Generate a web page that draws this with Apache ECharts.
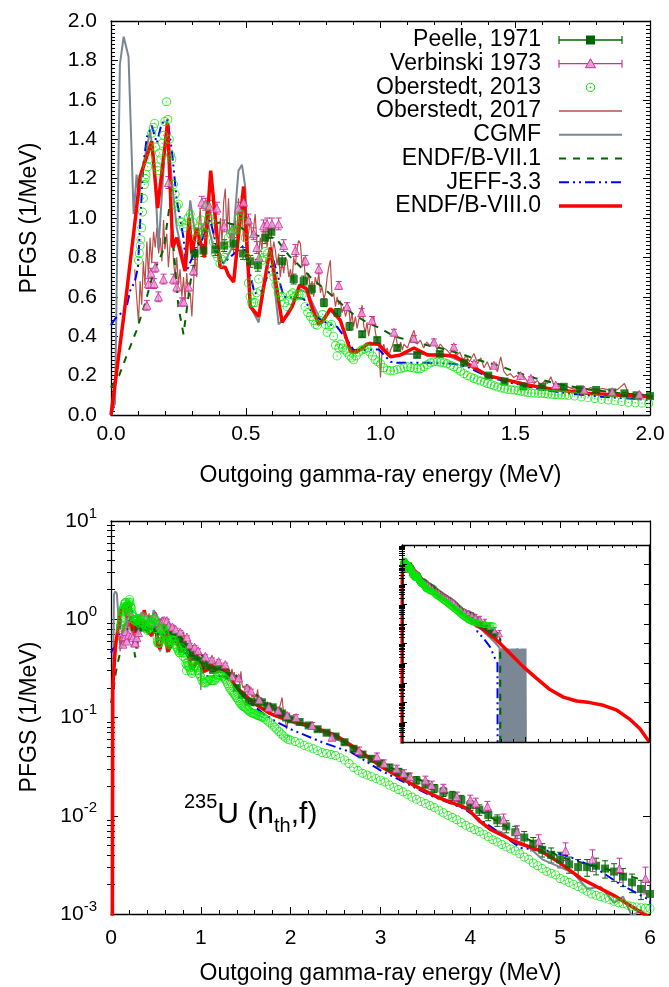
<!DOCTYPE html>
<html>
<head>
<meta charset="utf-8">
<script src="https://cdn.jsdelivr.net/npm/echarts@6/dist/echarts.min.js"></script>
<style>
html,body{margin:0;padding:0;background:#fff}
#main{width:669px;height:987px}
</style>
</head>
<body>
<div id="main"></div>
<script>
// Prompt fission gamma spectrum (PFGS) of 235U(n_th,f): energies in MeV, values in 1/MeV

// Peelle 1971: [E, PFGS, uncertainty]
const peelle = [
[0.31,0.82,0.03],[0.343,0.835,0.03],[0.387,0.84,0.03],[0.42,0.86,0.03],[0.455,0.87,0.03],[0.49,0.82,0.03],[0.517,0.78,0.03],[0.545,0.76,0.03],[0.572,0.9,0.03],[0.595,0.93,0.03],[0.635,0.78,0.03],[0.678,0.69,0.025],[0.715,0.68,0.025],[0.745,0.64,0.025],[0.79,0.57,0.02],[0.84,0.52,0.02],[0.885,0.45,0.02],[0.932,0.41,0.015],[0.988,0.38,0.015],[1.062,0.34,0.012],[1.136,0.305,0.012],[1.22,0.31,0.012],[1.31,0.265,0.01],[1.4,0.2,0.008],[1.46,0.17,0.007],[1.53,0.145,0.006],[1.6,0.143,0.006],[1.68,0.143,0.006],[1.74,0.13,0.005],[1.8,0.127,0.005],[1.86,0.115,0.005],[1.905,0.11,0.005],[1.95,0.1,0.004],[2.0,0.096,0.004],
[2.1,0.09,0.004],[2.2,0.083,0.004],[2.3,0.076,0.004],[2.4,0.07,0.0035],[2.5,0.064,0.0035],[2.6,0.056,0.003],[2.7,0.048,0.003],[2.8,0.042,0.0027],[2.9,0.038,0.0025],[3.0,0.034,0.0024],[3.1,0.031,0.0023],[3.2,0.028,0.0022],[3.3,0.025,0.002],[3.4,0.023,0.002],[3.5,0.021,0.0019],[3.6,0.019,0.0018],[3.7,0.0175,0.0018],[3.8,0.016,0.0017],[3.9,0.0145,0.0016],[4.0,0.0128,0.0015],[4.1,0.0115,0.0014],[4.2,0.0102,0.0013],[4.3,0.009,0.0012],[4.4,0.0078,0.0011],[4.5,0.0068,0.001],[4.6,0.006,0.0009],[4.7,0.0052,0.0008],[4.8,0.0045,0.0007],[4.9,0.004,0.0007],[5.0,0.0036,0.00065],[5.1,0.0032,0.0006],[5.2,0.003,0.00058],[5.3,0.003,0.00058],[5.4,0.0031,0.0006],[5.5,0.0029,0.00058],[5.6,0.0027,0.00055],[5.7,0.0024,0.0005],[5.8,0.0021,0.00045],[5.9,0.0018,0.0004],[6.0,0.0016,0.00035],[6.2,0.0013,0.0003],[6.4,0.001,0.00025],[6.6,0.0008,0.0002],[6.8,0.00065,0.00017],[7.0,0.00052,0.00014],[7.2,0.00042,0.00012],[7.4,0.00034,0.0001],[7.6,0.00028,0.00009]
];

// Verbinski 1973: [E, PFGS, uncertainty]
const verbinski = [
[0.133,0.557,0.025],[0.139,0.667,0.025],[0.148,0.72,0.025],[0.16,0.667,0.025],[0.164,0.75,0.025],[0.176,0.6,0.025],[0.195,0.69,0.025],[0.213,1.18,0.03],[0.232,0.69,0.025],[0.244,0.65,0.025],[0.263,0.574,0.02],[0.27,0.574,0.02],[0.288,0.65,0.02],[0.306,0.734,0.025],[0.337,1.08,0.03],[0.35,1.07,0.03],[0.365,1.06,0.03],[0.393,1.05,0.03],[0.42,0.96,0.03],[0.449,0.94,0.03],[0.473,1.05,0.03],[0.492,1.08,0.03],[0.51,0.99,0.03],[0.529,0.92,0.03],[0.541,0.85,0.03],[0.55,0.8,0.03],[0.566,0.96,0.03],[0.579,0.97,0.03],[0.597,0.97,0.03],[0.622,0.97,0.03],[0.641,0.86,0.03],[0.684,0.835,0.03],[0.721,0.785,0.025],[0.771,0.742,0.025],[0.845,0.658,0.02],[0.876,0.55,0.02],[0.93,0.52,0.02],[0.969,0.48,0.02],[1.05,0.42,0.015],[1.124,0.388,0.015],[1.198,0.371,0.015],[1.272,0.346,0.012],[1.347,0.262,0.01],[1.421,0.253,0.01],[1.52,0.2,0.008],[1.558,0.186,0.008],[1.65,0.152,0.007],[1.756,0.127,0.006],[1.86,0.118,0.006],[1.96,0.105,0.006],
[2.06,0.1,0.007],[2.24,0.083,0.006],[2.46,0.063,0.005],[2.76,0.046,0.004],[2.96,0.04,0.0035],[3.04,0.034,0.003],[3.18,0.03,0.0027],[3.26,0.027,0.0024],[3.33,0.025,0.0022],[3.5,0.023,0.0023],[3.57,0.0205,0.002],[3.7,0.019,0.0019],[3.85,0.0157,0.0017],[4.0,0.0145,0.0017],[4.06,0.0135,0.0016],[4.19,0.0124,0.0016],[4.37,0.0091,0.0013],[4.52,0.0069,0.001],[4.76,0.0055,0.0009],[5.06,0.0044,0.0009],[5.36,0.0036,0.0009],[5.66,0.0029,0.0008],[5.95,0.0023,0.0007],[6.3,0.0018,0.0006],[6.7,0.0012,0.0005],[7.1,0.0007,0.0003],[7.5,0.00045,0.0002],[7.9,0.0003,0.00015]
];

// Oberstedt 2013: [E, PFGS]
const oberstedt2013 = [
[0.102,0.785],[0.105,0.82],[0.108,0.86],[0.111,0.89],[0.114,0.95],[0.117,1.03],[0.12,1.1],[0.124,1.17],[0.127,1.2],[0.13,1.22],[0.136,1.26],[0.14,1.3],[0.145,1.36],[0.151,1.43],[0.157,1.46],[0.162,1.48],[0.166,1.36],[0.17,1.26],[0.175,1.24],[0.18,1.33],[0.185,1.3],[0.19,1.38],[0.195,1.42],[0.2,1.49],[0.206,1.59],[0.211,1.5],[0.216,1.4],[0.221,1.32],[0.226,1.3],[0.232,1.17],[0.238,1.12],[0.244,1.06],[0.25,1.07],[0.256,0.98],[0.263,0.98],[0.27,0.95],[0.278,0.97],[0.286,1.0],[0.294,1.02],[0.302,0.98],[0.31,0.93],[0.318,0.9],[0.326,0.95],[0.334,0.99],[0.342,0.93],[0.35,0.92],[0.356,1.06],[0.364,1.0],[0.372,0.98],[0.38,0.88],[0.388,0.82],[0.396,0.8],[0.404,0.77],[0.412,0.79],[0.42,0.8],[0.428,0.84],[0.436,0.9],[0.444,0.92],[0.452,0.93],[0.46,0.94],[0.467,0.94],[0.475,1.0],[0.482,1.02],[0.49,0.98],[0.498,0.9],[0.504,0.8],[0.51,0.67],[0.516,0.6],[0.522,0.57],[0.529,0.57],[0.535,0.57],[0.541,0.62],[0.548,0.69],[0.554,0.63],[0.56,0.785],[0.566,0.8],[0.572,0.83],[0.58,0.82],[0.588,0.78],[0.596,0.73],[0.604,0.7],[0.612,0.66],[0.62,0.62],[0.628,0.6],[0.636,0.6],[0.644,0.57],[0.653,0.55],[0.66,0.58],[0.666,0.61],[0.674,0.62],[0.682,0.6],[0.69,0.61],[0.698,0.61],[0.709,0.61],[0.72,0.55],[0.73,0.52],[0.74,0.5],[0.75,0.48],[0.758,0.46],[0.765,0.456],[0.775,0.48],[0.785,0.51],[0.795,0.46],[0.802,0.42],[0.81,0.45],[0.818,0.46],[0.826,0.4],[0.833,0.354],[0.839,0.3],[0.846,0.34],[0.853,0.36],[0.86,0.34],[0.868,0.33],[0.876,0.32],[0.885,0.3],[0.893,0.29],[0.9,0.28],[0.91,0.3],[0.92,0.32],[0.93,0.33],[0.94,0.335],[0.95,0.34],[0.96,0.32],[0.97,0.3],[0.98,0.28],[0.99,0.27],[1.0,0.26],[1.012,0.24],[1.025,0.228],[1.037,0.225],[1.05,0.225],[1.062,0.23],[1.075,0.235],[1.087,0.24],[1.1,0.245],[1.112,0.24],[1.124,0.238],[1.136,0.236],[1.149,0.236],[1.161,0.245],[1.173,0.255],[1.186,0.265],[1.198,0.27],[1.21,0.27],[1.222,0.268],[1.235,0.265],[1.247,0.26],[1.26,0.252],[1.272,0.245],[1.285,0.235],[1.297,0.222],[1.31,0.21],[1.322,0.2],[1.335,0.192],[1.347,0.185],[1.36,0.178],[1.372,0.172],[1.385,0.166],[1.397,0.16],[1.41,0.155],[1.422,0.148],[1.435,0.142],[1.447,0.137],[1.46,0.133],[1.472,0.13],[1.485,0.128],[1.497,0.127],[1.51,0.123],[1.522,0.12],[1.535,0.117],[1.547,0.114],[1.56,0.112],[1.572,0.111],[1.585,0.11],[1.597,0.11],[1.61,0.108],[1.622,0.106],[1.635,0.105],[1.647,0.104],[1.66,0.103],[1.672,0.102],[1.685,0.101],[1.697,0.1],[1.72,0.096],[1.745,0.092],[1.77,0.088],[1.795,0.084],[1.82,0.08],[1.845,0.076],[1.87,0.072],[1.895,0.068],[1.92,0.065],[1.945,0.062],[1.97,0.06],[1.995,0.059],
[2.05,0.057],[2.1,0.055],[2.15,0.052],[2.2,0.05],[2.25,0.048],[2.3,0.046],[2.35,0.044],[2.4,0.043],[2.45,0.042],[2.5,0.041],[2.55,0.039],[2.6,0.037],[2.65,0.034],[2.7,0.031],[2.75,0.029],[2.8,0.027],[2.85,0.026],[2.9,0.025],[2.95,0.024],[3.0,0.023],[3.05,0.022],[3.1,0.0205],[3.15,0.0195],[3.2,0.0185],[3.25,0.0175],[3.3,0.0165],[3.35,0.0155],[3.4,0.0147],[3.45,0.014],[3.5,0.0133],[3.55,0.0127],[3.6,0.0121],[3.65,0.0114],[3.7,0.0107],[3.75,0.0101],[3.8,0.0096],[3.85,0.0091],[3.9,0.0085],[3.95,0.008],[4.0,0.0076],[4.05,0.0072],[4.1,0.0069],[4.15,0.0065],[4.2,0.0061],[4.25,0.0057],[4.3,0.0054],[4.35,0.0051],[4.4,0.0048],[4.45,0.0046],[4.5,0.0044],[4.55,0.0041],[4.6,0.0038],[4.65,0.0036],[4.7,0.0033],[4.75,0.0031],[4.8,0.0029],[4.85,0.0027],[4.9,0.0026],[4.95,0.0025],[5.0,0.0023],[5.05,0.0022],[5.1,0.0021],[5.15,0.002],[5.2,0.0019],[5.25,0.0018],[5.3,0.0017],[5.35,0.0016],[5.4,0.00155],[5.45,0.0015],[5.5,0.00145],[5.55,0.0014],[5.6,0.00135],[5.65,0.0013],[5.7,0.00127],[5.75,0.00123],[5.8,0.0012],[5.85,0.00118],[5.9,0.00116],[5.95,0.00115],[6.0,0.00114],[6.1,0.0011],[6.2,0.00105],[6.3,0.001],[6.4,0.00098],[6.5,0.00095],[6.6,0.00092],[6.7,0.0009],[6.8,0.00088],[6.9,0.00087],[7.0,0.00086],[7.1,0.00085],[7.2,0.00084],[7.3,0.00082],[7.4,0.0008]
];

// Oberstedt 2017: [E, PFGS]
const oberstedt2017 = [
[0.088,0.74],[0.095,0.6],[0.102,0.47],[0.108,0.68],[0.114,0.56],[0.12,0.78],[0.126,0.66],[0.133,0.88],[0.139,0.7],[0.145,0.9],[0.151,0.77],[0.158,0.93],[0.164,0.85],[0.17,0.95],[0.177,0.82],[0.183,0.9],[0.189,0.78],[0.195,0.99],[0.2,0.84],[0.207,0.92],[0.213,0.75],[0.219,0.86],[0.226,0.95],[0.232,0.78],[0.238,0.7],[0.244,0.8],[0.25,0.66],[0.256,0.74],[0.263,0.6],[0.269,0.7],[0.275,0.58],[0.281,0.72],[0.288,0.6],[0.294,0.62],[0.3,0.5],[0.306,0.51],[0.312,0.82],[0.318,0.7],[0.325,0.95],[0.331,1.05],[0.337,0.9],[0.344,0.95],[0.35,1.0],[0.356,1.09],[0.362,0.95],[0.368,1.05],[0.374,1.05],[0.381,0.9],[0.387,1.0],[0.393,0.99],[0.4,0.85],[0.406,1.0],[0.412,0.88],[0.418,1.08],[0.424,1.15],[0.43,0.92],[0.436,1.1],[0.443,0.86],[0.449,0.95],[0.455,0.82],[0.461,1.0],[0.467,0.9],[0.473,1.1],[0.48,0.95],[0.486,1.05],[0.492,0.88],[0.498,0.98],[0.505,0.85],[0.511,0.93],[0.517,1.0],[0.523,0.9],[0.529,0.95],[0.535,1.02],[0.541,0.88],[0.548,0.82],[0.554,0.9],[0.56,0.84],[0.566,0.95],[0.572,0.98],[0.579,0.85],[0.585,0.95],[0.591,0.9],[0.597,0.8],[0.604,0.88],[0.61,0.835],[0.616,0.76],[0.622,0.82],[0.628,0.7],[0.635,0.78],[0.641,0.72],[0.647,0.8],[0.653,0.785],[0.66,0.7],[0.666,0.74],[0.672,0.68],[0.678,0.8],[0.684,0.76],[0.69,0.84],[0.696,0.886],[0.703,0.87],[0.709,0.75],[0.715,0.8],[0.721,0.7],[0.727,0.667],[0.733,0.72],[0.74,0.63],[0.746,0.68],[0.752,0.6],[0.758,0.7],[0.765,0.66],[0.771,0.72],[0.777,0.62],[0.783,0.65],[0.79,0.59],[0.796,0.62],[0.802,0.7],[0.808,0.75],[0.814,0.785],[0.82,0.6],[0.826,0.62],[0.833,0.55],[0.839,0.6],[0.845,0.56],[0.851,0.58],[0.857,0.52],[0.864,0.55],[0.87,0.5],[0.876,0.53],[0.882,0.55],[0.888,0.46],[0.894,0.52],[0.9,0.45],[0.907,0.5],[0.913,0.44],[0.919,0.48],[0.925,0.52],[0.932,0.557],[0.938,0.45],[0.944,0.42],[0.95,0.47],[0.956,0.4],[0.962,0.45],[0.969,0.48],[0.975,0.5],[0.981,0.42],[0.987,0.38],[0.994,0.35],[1.0,0.19],[1.006,0.33],[1.012,0.36],[1.019,0.32],[1.025,0.34],[1.031,0.3],[1.037,0.33],[1.043,0.346],[1.05,0.38],[1.056,0.41],[1.062,0.36],[1.068,0.34],[1.075,0.37],[1.081,0.33],[1.087,0.36],[1.1,0.34],[1.112,0.39],[1.124,0.43],[1.136,0.36],[1.148,0.38],[1.16,0.34],[1.172,0.37],[1.184,0.35],[1.198,0.38],[1.21,0.33],[1.222,0.36],[1.234,0.34],[1.246,0.33],[1.258,0.31],[1.27,0.34],[1.282,0.3],[1.294,0.32],[1.306,0.28],[1.318,0.3],[1.33,0.27],[1.347,0.312],[1.36,0.26],[1.372,0.29],[1.384,0.24],[1.396,0.27],[1.408,0.23],[1.42,0.25],[1.434,0.22],[1.446,0.295],[1.458,0.22],[1.47,0.2],[1.482,0.21],[1.494,0.19],[1.506,0.2],[1.518,0.18],[1.53,0.2],[1.545,0.17],[1.558,0.18],[1.57,0.16],[1.582,0.175],[1.594,0.15],[1.606,0.17],[1.62,0.16],[1.632,0.194],[1.644,0.15],[1.656,0.16],[1.668,0.14],[1.68,0.155],[1.7,0.14],[1.72,0.13],[1.74,0.145],[1.76,0.125],[1.78,0.14],[1.8,0.12],[1.82,0.135],[1.84,0.13],[1.86,0.12],[1.88,0.13],[1.905,0.16],[1.92,0.11],[1.94,0.095],[1.954,0.076],[1.97,0.09],[1.99,0.1],[2.01,0.095],[2.03,0.09],[2.05,0.085]
];

// CGMF calculation: [E, PFGS]; zero bins above 8 MeV come from limited statistics
const cgmf = [
[0,0],[0.015,0.06],[0.033,1.78],[0.047,1.92],[0.065,1.82],[0.084,1.02],[0.095,1.22],[0.103,1.1],[0.117,1.25],[0.145,1.44],[0.16,1.3],[0.176,0.845],[0.207,1.5],[0.225,1.2],[0.244,0.95],[0.275,0.76],[0.294,1.09],[0.312,0.92],[0.335,0.95],[0.356,0.99],[0.38,0.85],[0.418,0.77],[0.45,0.85],[0.473,1.24],[0.486,1.27],[0.498,1.16],[0.517,0.55],[0.548,0.47],[0.591,0.85],[0.622,0.46],[0.659,0.51],[0.696,0.64],[0.73,0.62],[0.783,0.465],[0.814,0.53],[0.851,0.48],[0.89,0.33],[0.93,0.33],[0.96,0.37],[1.0,0.35],[1.04,0.3],[1.1,0.31],[1.17,0.31],[1.25,0.3],[1.32,0.26],[1.4,0.2],[1.5,0.17],[1.6,0.14],[1.7,0.12],[1.8,0.105],[1.9,0.097],[2.0,0.09],[2.3,0.075],[2.6,0.055],[3.0,0.032],[3.3,0.022],[3.6,0.0165],[4.0,0.011],[4.2,0.0075],[4.35,0.0068],[4.5,0.0052],[4.65,0.0048],[4.8,0.0036],[5.0,0.003],[5.15,0.0026],[5.3,0.0018],[5.45,0.0019],[5.6,0.0013],[5.7,0.0015],[5.8,0.00095],[5.9,0.0011],[6.0,0.0007],[6.4,0.00055],[6.8,0.0003],[7.2,0.00018],[7.6,0.0001],[7.9,6e-5],
[7.95,0],[8.0,5.5e-5],[8.05,0],[8.1,5.8e-5],[8.15,0],[8.2,5.6e-5],[8.25,0],[8.3,5.8e-5],[8.35,0],[8.4,5.4e-5],[8.45,0],[8.5,5.7e-5],[8.55,0],[8.6,5.6e-5],[8.65,0],[8.7,5.5e-5],[8.75,0],[8.8,5.2e-5],[8.85,0],[8.9,5.6e-5],[8.95,0],[9.0,5.6e-5],[9.05,0],[9.1,5.4e-5],[9.15,0],[9.2,5.5e-5],[9.25,0],[9.3,5.7e-5],[9.35,0],[9.4,5.7e-5],[9.45,0],[9.5,5.3e-5],[9.55,0],[9.6,5.4e-5],[9.65,0],[9.7,5.6e-5],[9.75,0],[9.8,5.6e-5],[9.85,0],[9.9,5.5e-5],[9.95,0],[10.0,5.5e-5],[10.05,0]
];

// ENDF/B-VII.1 evaluation: [E, PFGS]
const endf71 = [
[0,0.14],[0.03,0.2],[0.052,0.28],[0.075,0.36],[0.095,0.43],[0.126,0.565],[0.157,0.72],[0.195,0.84],[0.219,1.08],[0.235,0.8],[0.25,0.55],[0.269,0.41],[0.294,0.67],[0.33,0.92],[0.37,0.97],[0.42,0.98],[0.47,0.96],[0.52,0.92],[0.57,0.9],[0.61,0.9],[0.66,0.81],[0.69,0.77],[0.74,0.7],[0.8,0.63],[0.85,0.57],[0.9,0.51],[0.95,0.47],[1.0,0.44],[1.05,0.4],[1.14,0.365],[1.22,0.34],[1.3,0.31],[1.36,0.28],[1.45,0.245],[1.55,0.195],[1.65,0.16],[1.77,0.13],[1.89,0.11],[2.0,0.1],[2.5,0.063],[3.0,0.034],[3.5,0.022],[4.0,0.013],[4.5,0.0068],[5.0,0.0038],[5.5,0.0029],[6.0,0.0021],[6.5,0.0012],[7.0,0.0007],[7.5,0.00042],[7.95,2.4e-4],[7.97,0]
];

// JEFF-3.3 evaluation: [E, PFGS]
const jeff33 = [
[0,0.456],[0.016,0.49],[0.04,0.52],[0.058,0.55],[0.071,0.63],[0.089,0.68],[0.1,0.75],[0.107,0.95],[0.12,1.27],[0.133,1.41],[0.151,1.47],[0.17,1.38],[0.188,1.48],[0.21,1.5],[0.226,1.34],[0.244,1.09],[0.269,0.9],[0.281,0.73],[0.312,0.835],[0.337,0.886],[0.368,0.99],[0.393,0.85],[0.417,0.77],[0.449,0.81],[0.492,0.86],[0.533,0.616],[0.56,0.633],[0.603,0.785],[0.641,0.6],[0.715,0.59],[0.752,0.506],[0.796,0.47],[0.839,0.447],[0.876,0.38],[0.9,0.33],[0.94,0.33],[0.994,0.333],[1.037,0.27],[1.06,0.265],[1.174,0.265],[1.272,0.26],[1.322,0.245],[1.397,0.194],[1.496,0.16],[1.595,0.13],[1.694,0.11],[1.818,0.093],[2.0,0.076],[2.35,0.056],[2.68,0.044],[3.0,0.029],[3.56,0.016],[3.93,0.0118],[4.23,0.0077],[4.56,0.0047],[4.86,0.0044],[5.08,0.0039],[5.38,0.003],[5.67,0.002],[6.0,0.00138],[6.1,4e-4],[6.6,1.8e-4],[7.13,6.8e-5],[7.6,1.4e-5],[7.73,1e-5],[7.75,0]
];

// ENDF/B-VIII.0 evaluation: [E, PFGS]
const endf80 = [
[0,0],[0.02,0.21],[0.05,0.53],[0.095,1.05],[0.108,1.21],[0.151,1.39],[0.173,1.05],[0.21,1.48],[0.229,0.85],[0.244,0.9],[0.275,0.73],[0.29,1.0],[0.30,0.82],[0.318,0.95],[0.347,0.8],[0.37,1.24],[0.405,0.75],[0.424,0.75],[0.436,0.71],[0.455,0.675],[0.492,1.16],[0.517,0.55],[0.548,0.5],[0.591,0.85],[0.635,0.47],[0.672,0.55],[0.70,0.66],[0.726,0.64],[0.745,0.55],[0.77,0.46],[0.787,0.48],[0.814,0.54],[0.851,0.48],[0.89,0.32],[0.913,0.32],[0.95,0.36],[0.994,0.36],[1.005,0.34],[1.037,0.295],[1.074,0.305],[1.124,0.34],[1.174,0.305],[1.223,0.305],[1.272,0.3],[1.322,0.262],[1.397,0.2],[1.471,0.177],[1.545,0.152],[1.644,0.13],[1.768,0.11],[1.892,0.1],[2.0,0.093],[2.25,0.08],[2.5,0.066],[2.75,0.047],[3.0,0.032],[3.37,0.0204],[3.63,0.0155],[3.97,0.0118],[4.11,0.0087],[4.23,0.0072],[4.49,0.0055],[4.78,0.0044],[5.0,0.0033],[5.23,0.0023],[5.6,0.00154],[5.93,0.001],[6.5,0.00055],[7.0,0.00032],[7.5,0.00018],[7.94,1e-4],[8.75,3.1e-5],[9.83,6.5e-6],[10.9,1.7e-6],[11.98,4.6e-7],[13.06,1.9e-7],[14.13,1.2e-7],[15.2,1e-7],[16.3,7.3e-8],[17.4,4.1e-8],[18.4,1.5e-8],[19.25,4.8e-9],[19.9,1.3e-9],[20,1e-9]
];

// Axis ranges and tick labels
const topX = {min: 0, max: 2, interval: 0.5};
const topY = {min: 0, max: 2, interval: 0.2};
const logX = {min: 0, max: 6, interval: 1};
const logY = {min: 1e-3, max: 1e1};
const insetX = {min: 0, max: 20, interval: 5};
const insetY = {min: 1e-9, max: 1e1};
const xTitle = 'Outgoing gamma-ray energy (MeV)';
const yTitle = 'PFGS (1/MeV)';

const FONT = '"Liberation Sans", Arial, Helvetica, sans-serif';
const C = {
  peelle: '#006400', verb: '#c8319c', verbFill: '#f09ad8', ob13: '#00e600',
  ob17: '#b8514c', cgmf: '#7a8794', e71: '#006400', jeff: '#0000ff', e80: '#ff0000'
};

// one grid per panel: linear top, log bottom, log inset
const G = [
  {xi: 0, yi: 0, log: false, z: 2, sym: 1},
  {xi: 2, yi: 2, log: true, z: 2, sym: 1},
  {xi: 4, yi: 6, log: true, z: 6, sym: 0.7}
];

function pts(arr, log) {
  return arr.map(p => [p[0], log && p[1] <= 0 ? 1e-12 : p[1]]);
}

function frameAxis(o) {
  return Object.assign({
    type: 'value',
    axisLine: {show: true, onZero: false, lineStyle: {color: '#000', width: 1.3}},
    axisTick: {show: true, inside: true, length: 7, lineStyle: {color: '#000', width: 1}},
    minorTick: {show: true, length: 4, lineStyle: {color: '#000', width: 1}},
    splitLine: {show: false},
    minorSplitLine: {show: false},
    axisLabel: {show: false}
  }, o);
}

const numLabel = (margin, fmt) => ({
  show: true, margin: margin, fontSize: 21, color: '#000', fontFamily: FONT,
  showMinLabel: true, showMaxLabel: true, formatter: fmt
});

const powLabel = {
  show: true, margin: 14, color: '#000', fontFamily: FONT,
  showMinLabel: true, showMaxLabel: true,
  formatter: v => '{b|10}{s|' + Math.round(Math.log10(v)) + '}',
  rich: {
    b: {fontSize: 21, fontFamily: FONT, color: '#000', lineHeight: 30, verticalAlign: 'middle'},
    s: {fontSize: 15, fontFamily: FONT, color: '#000', lineHeight: 15, verticalAlign: 'top'}
  }
};

function logMinor(gridIndex, lo, hi, pos, len, z) {
  const vals = [];
  for (let d = lo; d < hi; d++) for (let k = 2; k <= 9; k++) vals.push(d + Math.log10(k));
  return {
    gridIndex: gridIndex, type: 'value', min: lo, max: hi, position: pos, z: z,
    axisLine: {show: false}, axisLabel: {show: false}, splitLine: {show: false},
    axisTick: {show: true, inside: true, length: len, customValues: vals, lineStyle: {color: '#000', width: 1}}
  };
}

const xAxis = [
  frameAxis({gridIndex: 0, position: 'bottom', min: topX.min, max: topX.max, interval: topX.interval,
    minorTick: {show: true, splitNumber: 5, length: 4, lineStyle: {color: '#000'}},
    axisLabel: numLabel(9, v => v.toFixed(1))}),
  frameAxis({gridIndex: 0, position: 'top', min: topX.min, max: topX.max, interval: topX.interval,
    minorTick: {show: true, splitNumber: 5, length: 4, lineStyle: {color: '#000'}}}),
  frameAxis({gridIndex: 1, position: 'bottom', min: logX.min, max: logX.max, interval: logX.interval,
    minorTick: {show: true, splitNumber: 5, length: 4, lineStyle: {color: '#000'}},
    axisLabel: numLabel(14, v => String(v))}),
  frameAxis({gridIndex: 1, position: 'top', min: logX.min, max: logX.max, interval: logX.interval,
    minorTick: {show: true, splitNumber: 5, length: 4, lineStyle: {color: '#000'}}}),
  frameAxis({gridIndex: 2, position: 'bottom', min: insetX.min, max: insetX.max, interval: insetX.interval, z: 7,
    axisTick: {show: true, inside: true, length: 5, lineStyle: {color: '#000'}},
    minorTick: {show: true, splitNumber: 5, length: 3, lineStyle: {color: '#000'}}}),
  frameAxis({gridIndex: 2, position: 'top', min: insetX.min, max: insetX.max, interval: insetX.interval, z: 7,
    axisTick: {show: true, inside: true, length: 5, lineStyle: {color: '#000'}},
    minorTick: {show: true, splitNumber: 5, length: 3, lineStyle: {color: '#000'}}})
];

const yAxis = [
  frameAxis({gridIndex: 0, position: 'left', min: topY.min, max: topY.max, interval: topY.interval,
    minorTick: {show: true, splitNumber: 10, length: 4, lineStyle: {color: '#000'}},
    axisLabel: numLabel(14, v => v.toFixed(1))}),
  frameAxis({gridIndex: 0, position: 'right', min: topY.min, max: topY.max, interval: topY.interval,
    minorTick: {show: true, splitNumber: 10, length: 4, lineStyle: {color: '#000'}}}),
  frameAxis({gridIndex: 1, type: 'log', logBase: 10, position: 'left', min: logY.min, max: logY.max,
    minorTick: {show: false}, axisLabel: powLabel}),
  frameAxis({gridIndex: 1, type: 'log', logBase: 10, position: 'right', min: logY.min, max: logY.max,
    minorTick: {show: false}}),
  logMinor(1, -3, 1, 'left', 4, 0),
  logMinor(1, -3, 1, 'right', 4, 0),
  frameAxis({gridIndex: 2, type: 'log', logBase: 10, position: 'left', min: insetY.min, max: insetY.max,
    splitNumber: 10, z: 7, minorTick: {show: false},
    axisTick: {show: true, inside: true, length: 5, lineStyle: {color: '#000'}}}),
  frameAxis({gridIndex: 2, type: 'log', logBase: 10, position: 'right', min: insetY.min, max: insetY.max,
    splitNumber: 10, z: 7, minorTick: {show: false},
    axisTick: {show: true, inside: true, length: 5, lineStyle: {color: '#000'}}}),
  logMinor(2, -9, 1, 'left', 3, 7),
  logMinor(2, -9, 1, 'right', 3, 7)
];

const series = [];

function errorBars(name, arr, color) {
  G.forEach(g => series.push({
    name: name, type: 'custom', xAxisIndex: g.xi, yAxisIndex: g.yi, z: g.z, clip: true, silent: true,
    data: arr.map(p => [p[0], p[1], p[2]]),
    encode: {x: 0, y: 1},
    renderItem: (params, api) => {
      const x = api.value(0), y = api.value(1), d = api.value(2);
      const hi = api.coord([x, y + d]);
      const lo = api.coord([x, Math.max(y - d, 1e-12)]);
      const c = 3 * g.sym, st = {stroke: color, lineWidth: 1};
      return {type: 'group', children: [
        {type: 'line', shape: {x1: hi[0], y1: hi[1], x2: lo[0], y2: lo[1]}, style: st},
        {type: 'line', shape: {x1: hi[0] - c, y1: hi[1], x2: hi[0] + c, y2: hi[1]}, style: st},
        {type: 'line', shape: {x1: lo[0] - c, y1: lo[1], x2: lo[0] + c, y2: lo[1]}, style: st}
      ]};
    }
  }));
}

function points(name, arr, symbol, size, itemStyle) {
  G.forEach(g => series.push({
    name: name, type: 'scatter', xAxisIndex: g.xi, yAxisIndex: g.yi, z: g.z, clip: true, silent: true,
    symbol: symbol, symbolSize: size * g.sym, itemStyle: itemStyle,
    data: pts(arr, g.log)
  }));
}

function curve(name, arr, lineStyle) {
  G.forEach(g => series.push({
    name: name, type: 'line', xAxisIndex: g.xi, yAxisIndex: g.yi, z: g.z, clip: true, silent: true,
    symbol: 'none', showSymbol: false, lineStyle: lineStyle, data: pts(arr, g.log)
  }));
}

// open circle with a centre dot
const ringDot = 'path://M10,0A10,10,0,1,1,10,20A10,10,0,1,1,10,0ZM10,2A8,8,0,1,0,10,18A8,8,0,1,0,10,2ZM10,8.3A1.7,1.7,0,1,1,10,11.7A1.7,1.7,0,1,1,10,8.3Z';

errorBars('Peelle, 1971', peelle, C.peelle);
points('Peelle, 1971', peelle, 'rect', 8, {color: C.peelle});
errorBars('Verbinski 1973', verbinski, C.verb);
points('Verbinski 1973', verbinski, 'triangle', 8, {color: C.verbFill, borderColor: C.verb, borderWidth: 1});
points('Oberstedt, 2013', oberstedt2013, ringDot, 9, {color: C.ob13});
curve('Oberstedt, 2017', oberstedt2017, {color: C.ob17, width: 1.2});
curve('CGMF', cgmf, {color: C.cgmf, width: 2});
curve('ENDF/B-VII.1', endf71, {color: C.e71, width: 2, type: [7, 7]});
curve('JEFF-3.3', jeff33, {color: C.jeff, width: 2, type: [10, 4, 2, 4, 2, 4]});
curve('ENDF/B-VIII.0', endf80, {color: C.e80, width: 3.5});

// key in the upper panel
const keyRows = [
  {t: 'Peelle, 1971', k: 'peelle'}, {t: 'Verbinski 1973', k: 'verb'}, {t: 'Oberstedt, 2013', k: 'ob13'},
  {t: 'Oberstedt, 2017', k: 'ob17'}, {t: 'CGMF', k: 'cgmf'}, {t: 'ENDF/B-VII.1', k: 'e71'},
  {t: 'JEFF-3.3', k: 'jeff'}, {t: 'ENDF/B-VIII.0', k: 'e80'}
];
const graphic = [];
const kx1 = 559, kx2 = 622, kxc = (kx1 + kx2) / 2, ktx = 541;
keyRows.forEach((r, i) => {
  const y = 40 + 23.7 * i;
  graphic.push({type: 'text', x: ktx, y: y, z: 20,
    style: {text: r.t, fontSize: 23, fontFamily: FONT, fill: '#000', align: 'right', verticalAlign: 'middle'}});
  const ln = (stroke, w, dash) => ({type: 'line', z: 20,
    shape: {x1: kx1, y1: y, x2: kx2, y2: y}, style: {stroke: stroke, lineWidth: w, lineDash: dash || null}});
  const cap = (x, stroke) => ({type: 'line', z: 20,
    shape: {x1: x, y1: y - 4, x2: x, y2: y + 4}, style: {stroke: stroke, lineWidth: 1.2}});
  if (r.k === 'peelle') {
    graphic.push(ln(C.peelle, 1.5), cap(kx1, C.peelle), cap(kx2, C.peelle),
      {type: 'rect', z: 21, shape: {x: kxc - 4.5, y: y - 4.5, width: 9, height: 9}, style: {fill: C.peelle}});
  } else if (r.k === 'verb') {
    graphic.push(ln(C.verb, 1.2), cap(kx1, C.verb), cap(kx2, C.verb),
      {type: 'polygon', z: 21, shape: {points: [[kxc, y - 5], [kxc - 5, y + 4], [kxc + 5, y + 4]]},
        style: {fill: C.verbFill, stroke: C.verb, lineWidth: 1}});
  } else if (r.k === 'ob13') {
    graphic.push({type: 'circle', z: 21, shape: {cx: kxc, cy: y, r: 4.2}, style: {fill: 'none', stroke: C.ob13, lineWidth: 1}},
      {type: 'circle', z: 21, shape: {cx: kxc, cy: y, r: 0.9}, style: {fill: C.ob13}});
  } else if (r.k === 'ob17') {
    graphic.push(ln(C.ob17, 1.5));
  } else if (r.k === 'cgmf') {
    graphic.push(ln(C.cgmf, 2));
  } else if (r.k === 'e71') {
    graphic.push(ln(C.e71, 2, [7, 7]));
  } else if (r.k === 'jeff') {
    graphic.push(ln(C.jeff, 2, [10, 4, 2, 4, 2, 4]));
  } else {
    graphic.push(ln(C.e80, 3.5));
  }
});

// axis titles
graphic.push(
  {type: 'text', x: 380.5, y: 476, style: {text: xTitle, fontSize: 23, fontFamily: FONT, fill: '#000', align: 'center', verticalAlign: 'middle'}},
  {type: 'text', x: 380.5, y: 974, style: {text: xTitle, fontSize: 23, fontFamily: FONT, fill: '#000', align: 'center', verticalAlign: 'middle'}},
  {type: 'text', x: 30, y: 218, rotation: Math.PI / 2, style: {text: yTitle, fontSize: 23, fontFamily: FONT, fill: '#000', align: 'center', verticalAlign: 'middle'}},
  {type: 'text', x: 30, y: 717, rotation: Math.PI / 2, style: {text: yTitle, fontSize: 23, fontFamily: FONT, fill: '#000', align: 'center', verticalAlign: 'middle'}}
);

// reaction label in the lower panel
graphic.push({type: 'text', x: 184, y: 836, z: 20, style: {
  text: '{a|235}{b|U (n}{c|th}{b|,f)}', align: 'left', verticalAlign: 'bottom',
  rich: {
    a: {fontSize: 20, fontFamily: FONT, fill: '#000', color: '#000', lineHeight: 20, verticalAlign: 'bottom', padding: [0, 0, 24, 0]},
    b: {fontSize: 30, fontFamily: FONT, fill: '#000', color: '#000', lineHeight: 30, verticalAlign: 'bottom', padding: [0, 0, 6, 0]},
    c: {fontSize: 20, fontFamily: FONT, fill: '#000', color: '#000', lineHeight: 20, verticalAlign: 'bottom', padding: [0, 0, 0, 0]}
  }
}});

const chart = echarts.init(document.getElementById('main'), null, {renderer: 'canvas'});
chart.setOption({
  animation: false,
  backgroundColor: '#fff',
  textStyle: {fontFamily: FONT},
  grid: [
    {left: 111, top: 21, width: 539, height: 394, containLabel: false, outerBoundsMode: 'none'},
    {left: 111, top: 521, width: 539, height: 393, containLabel: false, outerBoundsMode: 'none'},
    {left: 402, top: 545, width: 247, height: 197, containLabel: false, outerBoundsMode: 'none',
      show: true, backgroundColor: '#fff', borderWidth: 0, z: 5}
  ],
  xAxis: xAxis,
  yAxis: yAxis,
  series: series,
  graphic: graphic
});
</script>
</body>
</html>
